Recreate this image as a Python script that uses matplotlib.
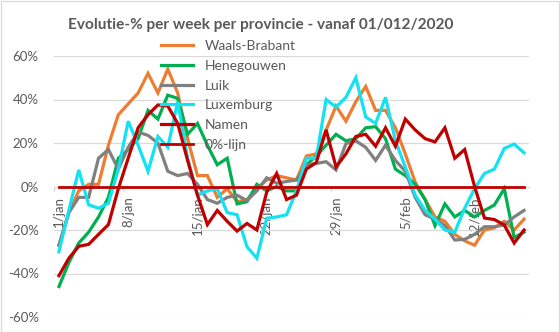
import numpy as np
import matplotlib
matplotlib.use("Agg")
import matplotlib.pyplot as plt
from matplotlib.patches import Rectangle
from matplotlib.ticker import FixedLocator

plt.rcParams['font.family'] = ['Lato', 'DejaVu Sans']

# Daily week-over-week evolution (%) from 1 January to 17 February
days = np.arange(48)
tick_days = [0, 7, 14, 21, 28, 35, 42]
tick_labels = ["1/jan", "8/jan", "15/jan", "22/jan", "29/jan", "5/feb", "12/feb"]

waals_brabant = [-27, -12, -2, 1, 1, 19, 33, 38, 43, 52, 43, 54, 43, 22, 5, 5,
                 -5, -1, -7, -6, -1, 3, 5, 4, 3, 14, 15, 26, 37, 30, 39, 46,
                 35, 35, 27, 15, 2, -6, -14, -16, -22, -25, -27, -20, -19, -16, -20, -15]
henegouwen = [-46, -35, -26, -21, -14, -5, 13, 17, 22, 35, 31, 42, 40.5, 24, 29, 19,
              10, 13, -8, -7, 1, -2, 0, -2, -2, 10, 14, 19, 24, 21, 22, 27,
              27.5, 22, 8, 5, 1, -6, -18, -8, -14, -11, -14, -11, -8.5, -1, -23.5, -21]
luik = [-27, -12, -5, -5, 13, 17, 8, 18, 25, 23.5, 20, 7, 5, 6, 1, -6,
        -7.7, -5, -4, -6.5, -2, 4, 1.5, 2.3, 3, 10, 10.6, 11.4, 7.6, 19.7, 21, 18,
        12, 19, 12, 7, -5, -13, -15, -18, -24.6, -24.3, -22, -18.5, -18.5, -17.7, -14, -11]
luxemburg = [-30, -11, 7.6, -8.4, -10, -7.7, 8, 30, 19, 7, 23, 18, 39, 13, -4, -2,
             -1, -12, -13, -27.7, -33, -14.6, -14, -13, -2, 13, 13, 40, 36.5, 41, 50, 32,
             29, 41, 21, 9, -4, -11, -15, -20, -21, -10, -1, 6, 8, 17.5, 19.5, 15.5]
namen = [-41, -33, -27.5, -26.6, -22, -17.5, -1, 13, 27, 33, 37.5, 37, 29, 12, -4, -17.5,
         -11, -16, -20.5, -17, -20, -2.5, 6, -6, -4, 8, 11, 26, 9, 15, 23, 24,
         18.5, 27, 18.5, 31, 26, 22, 20.5, 27, 13, 17, 0, -14.5, -15.2, -17.7, -26, -20]
nul_lijn = [0] * 48

series = [
    ("Waals-Brabant", waals_brabant, "#ED7D31"),
    ("Henegouwen", henegouwen, "#00B050"),
    ("Luik", luik, "#808080"),
    ("Luxemburg", luxemburg, "#12E2F2"),
    ("Namen", namen, "#C00000"),
    ("0%-lijn", nul_lijn, "#C00000"),
]

y_ticks = [-60, -40, -20, 0, 20, 40, 60]
y_tick_labels = ["-60%", "-40%", "-20%", "0%", "20%", "40%", "60%"]

text_col = "#595959"
grid_col = "#D9D9D9"

W, H = 560, 332
fig = plt.figure(figsize=(W / 100, H / 100), dpi=100)
fig.patch.set_facecolor("white")
fig.patches.append(Rectangle((0.5 / W, 0.5 / H), 1 - 1.5 / W, 1 - 1.5 / H,
                             transform=fig.transFigure, fill=False,
                             edgecolor=grid_col, linewidth=0.9))

ax = fig.add_axes([54 / W, 15 / H, (529 - 54) / W, (317 - 56) / H])
ax.set_xlim(-0.5, 47.5)
ax.set_ylim(-60, 60)

for name, vals, col in series:
    lw = 2.0 if name == "0%-lijn" else 2.3
    ax.plot(days, vals, color=col, lw=lw, label=name, zorder=3,
            solid_joinstyle="miter")

# Value axis
ax.set_yticks(y_ticks)
ax.set_yticklabels(y_tick_labels)
ax.yaxis.grid(True, color=grid_col, lw=0.9)
ax.set_axisbelow(True)
ax.tick_params(axis="y", length=0, pad=11, labelsize=9.5, labelcolor=text_col)

# Category axis crossing at 0
for s in ("left", "right", "top"):
    ax.spines[s].set_visible(False)
ax.spines["bottom"].set_position(("data", 0))
ax.spines["bottom"].set_color(grid_col)
ax.set_xticks(tick_days)
ax.set_xticklabels(tick_labels, rotation=90, va="top", ha="center")
ax.xaxis.set_minor_locator(FixedLocator([d - 0.5 for d in tick_days]))
ax.tick_params(axis="x", which="major", length=0, pad=7, labelsize=9.5,
               labelcolor=text_col)
ax.tick_params(axis="x", which="minor", length=3, width=0.9, color=grid_col,
               direction="out")

fig.text(261 / W, 1 - 25 / H, "Evolutie-% per week per provincie - vanaf 01/012/2020",
         ha="center", va="center", fontsize=11.1, fontweight="bold", color=text_col)

leg = ax.legend(loc="upper left", bbox_to_anchor=(161 / W, 1 - 40 / H),
                bbox_transform=fig.transFigure, frameon=False, fontsize=10,
                borderpad=0, borderaxespad=0, handlelength=2.3, handletextpad=0.85,
                labelspacing=0.56)
for t in leg.get_texts():
    t.set_color(text_col)

fig.savefig("out.png", dpi=100, facecolor="white")
